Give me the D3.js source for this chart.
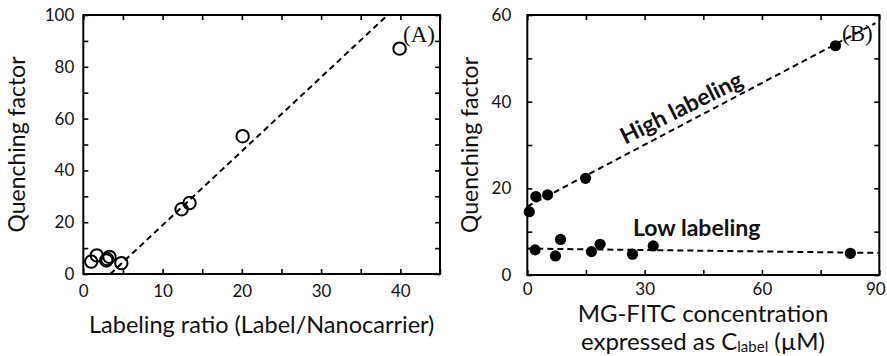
<!DOCTYPE html>
<html>
<head>
<meta charset="utf-8">
<script src="https://cdn.jsdelivr.net/npm/d3@7.7.0/dist/d3.min.js"></script>
<style>
  body { margin: 0; background: #fff; }
  text { font-family: Lato, "Open Sans", sans-serif; fill: #111; }
</style>
</head>
<body>
<div id="chart"></div>
<script>
// panel A: labeling ratio vs quenching factor (open circles)
const ratioA = [1.0, 1.7, 2.9, 3.0, 3.3, 4.8, 12.4, 13.4, 20.1, 39.9];
const quenchA = [4.8, 7.2, 5.2, 5.8, 6.6, 4.2, 25, 27.4, 53.2, 87];
const fitAx = [3.4, 38.4];
const fitAy = [0, 100];

// panel B: concentration vs quenching factor (filled circles)
const concHigh = [0.5, 2.2, 5.2, 14.9, 78.8];
const quenchHigh = [14.6, 18.1, 18.5, 22.3, 52.9];
const concLow = [2.0, 7.2, 8.5, 16.4, 18.6, 26.9, 32.2, 82.6];
const quenchLow = [5.8, 4.4, 8.2, 5.4, 7.1, 4.8, 6.7, 5.0];
const fitHighX = [0, 89];
const fitHighY = [15.8, 58.1];
const fitLowX = [0, 90];
const fitLowY = [6.1, 5.1];

// tick labels
const xTicksA = [0, 10, 20, 30, 40];
const yTicksA = [0, 20, 40, 60, 80, 100];
const xTicksB = [0, 30, 60, 90];
const yTicksB = [0, 20, 40, 60];

const svg = d3.select("#chart").append("svg")
  .attr("width", 887)
  .attr("height", 356);

function panel(opt) {
  const w = opt.right - opt.left;
  const h = opt.bottom - opt.top;
  const g = svg.append("g").attr("transform", `translate(${opt.left}, ${opt.top})`);

  const x = d3.scaleLinear().domain(opt.xDomain).range([0, w]);
  const y = d3.scaleLinear().domain(opt.yDomain).range([h, 0]);

  // inward ticks on all four sides (minor ones unlabeled)
  const xMinor = d3.range(opt.xDomain[0], opt.xDomain[1] + 0.001, opt.xStep);
  const yMinor = d3.range(opt.yDomain[0], opt.yDomain[1] + 0.001, opt.yStep);
  g.append("g").attr("transform", `translate(0, ${h})`)
    .call(d3.axisBottom(x).tickValues(xMinor).tickFormat("").tickSize(-5).tickSizeOuter(0));
  g.append("g")
    .call(d3.axisTop(x).tickValues(xMinor).tickFormat("").tickSize(-5).tickSizeOuter(0));
  g.append("g")
    .call(d3.axisLeft(y).tickValues(yMinor).tickFormat("").tickSize(-5).tickSizeOuter(0));
  g.append("g").attr("transform", `translate(${w}, 0)`)
    .call(d3.axisRight(y).tickValues(yMinor).tickFormat("").tickSize(-5).tickSizeOuter(0));

  // tick labels
  g.append("g").attr("class", "xlab").attr("transform", `translate(0, ${h})`)
    .call(d3.axisBottom(x).tickValues(opt.xTicks).tickSize(0).tickPadding(opt.xPad));
  g.append("g").attr("class", "ylab")
    .call(d3.axisLeft(y).tickValues(opt.yTicks).tickSize(0).tickPadding(opt.yPad));
  g.selectAll(".xlab text, .ylab text")
    .style("font-family", "Lato, 'Open Sans', sans-serif")
    .style("font-size", "17px")
    .attr("fill", "#111");
  g.selectAll(".domain").remove();
  g.selectAll(".tick line").attr("stroke", "#000").attr("stroke-width", 1.6);

  // frame
  g.append("rect")
    .attr("width", w).attr("height", h)
    .attr("fill", "none").attr("stroke", "#000").attr("stroke-width", 2);

  // y title
  g.append("text")
    .attr("transform", `translate(${opt.yTitleX - opt.left}, ${h / 2}) rotate(-90)`)
    .attr("text-anchor", "middle")
    .style("font-size", "23px")
    .text("Quenching factor");

  return { g, x, y, w, h };
}

function dashed(p, xs, ys) {
  const line = d3.line().x((d) => p.x(d[0])).y((d) => p.y(d[1]));
  p.g.append("path")
    .attr("d", line(d3.zip(xs, ys)))
    .attr("fill", "none")
    .attr("stroke", "#000")
    .attr("stroke-width", 2)
    .attr("stroke-dasharray", "6,4");
}

// ----- panel A -----
const pA = panel({
  left: 83.3, right: 440, top: 15, bottom: 274,
  xDomain: [0, 45], yDomain: [0, 100], xStep: 5, yStep: 10,
  xTicks: xTicksA, yTicks: yTicksA, xPad: 11, yPad: 9, yTitleX: 25
});

dashed(pA, fitAx, fitAy);

pA.g.selectAll(".ptA")
  .data(d3.zip(ratioA, quenchA))
  .enter()
  .append("circle")
  .attr("cx", (d) => pA.x(d[0]))
  .attr("cy", (d) => pA.y(d[1]))
  .attr("r", 6.2)
  .attr("fill", "none")
  .attr("stroke", "#000")
  .attr("stroke-width", 2);

svg.append("text")
  .attr("x", 261.7).attr("y", 333)
  .attr("text-anchor", "middle")
  .style("font-size", "23.5px")
  .text("Labeling ratio (Label/Nanocarrier)");

svg.append("text")
  .attr("x", 403).attr("y", 42)
  .style("font-family", "'Liberation Serif', 'DejaVu Serif', serif")
  .style("font-size", "23px")
  .text("(A)");

// ----- panel B -----
const pB = panel({
  left: 527.3, right: 879.3, top: 15, bottom: 275,
  xDomain: [0, 90], yDomain: [0, 60], xStep: 15, yStep: 10,
  xTicks: xTicksB, yTicks: yTicksB, xPad: 8, yPad: 16, yTitleX: 478
});
// last x label sits at the right edge; nudge it in so it stays on the page
pB.g.selectAll(".xlab .tick text").filter((d) => d === 90).attr("dx", -4);

dashed(pB, fitHighX, fitHighY);
dashed(pB, fitLowX, fitLowY);

pB.g.selectAll(".ptB")
  .data(d3.zip(concHigh, quenchHigh).concat(d3.zip(concLow, quenchLow)))
  .enter()
  .append("circle")
  .attr("cx", (d) => pB.x(d[0]))
  .attr("cy", (d) => pB.y(d[1]))
  .attr("r", 5.6)
  .attr("fill", "#000");

svg.append("text")
  .attr("transform", "translate(685, 115) rotate(-26.5)")
  .attr("text-anchor", "middle")
  .style("font-size", "23px")
  .style("font-weight", "bold")
  .text("High labeling");

svg.append("text")
  .attr("x", 633).attr("y", 236)
  .style("font-size", "23px")
  .style("font-weight", "bold")
  .text("Low labeling");

svg.append("text")
  .attr("x", 842).attr("y", 41)
  .style("font-family", "'Liberation Serif', 'DejaVu Serif', serif")
  .style("font-size", "23px")
  .text("(B)");

const xt = svg.append("text")
  .attr("text-anchor", "middle")
  .style("font-size", "24px");
xt.append("tspan").attr("x", 703).attr("y", 322).text("MG-FITC concentration");
const l2 = xt.append("tspan").attr("x", 703).attr("y", 350);
l2.append("tspan").text("expressed as C");
l2.append("tspan").attr("dy", 2).style("font-size", "15px").text("label");
l2.append("tspan").attr("dy", -2).text(" (\u00b5M)");
</script>
</body>
</html>
